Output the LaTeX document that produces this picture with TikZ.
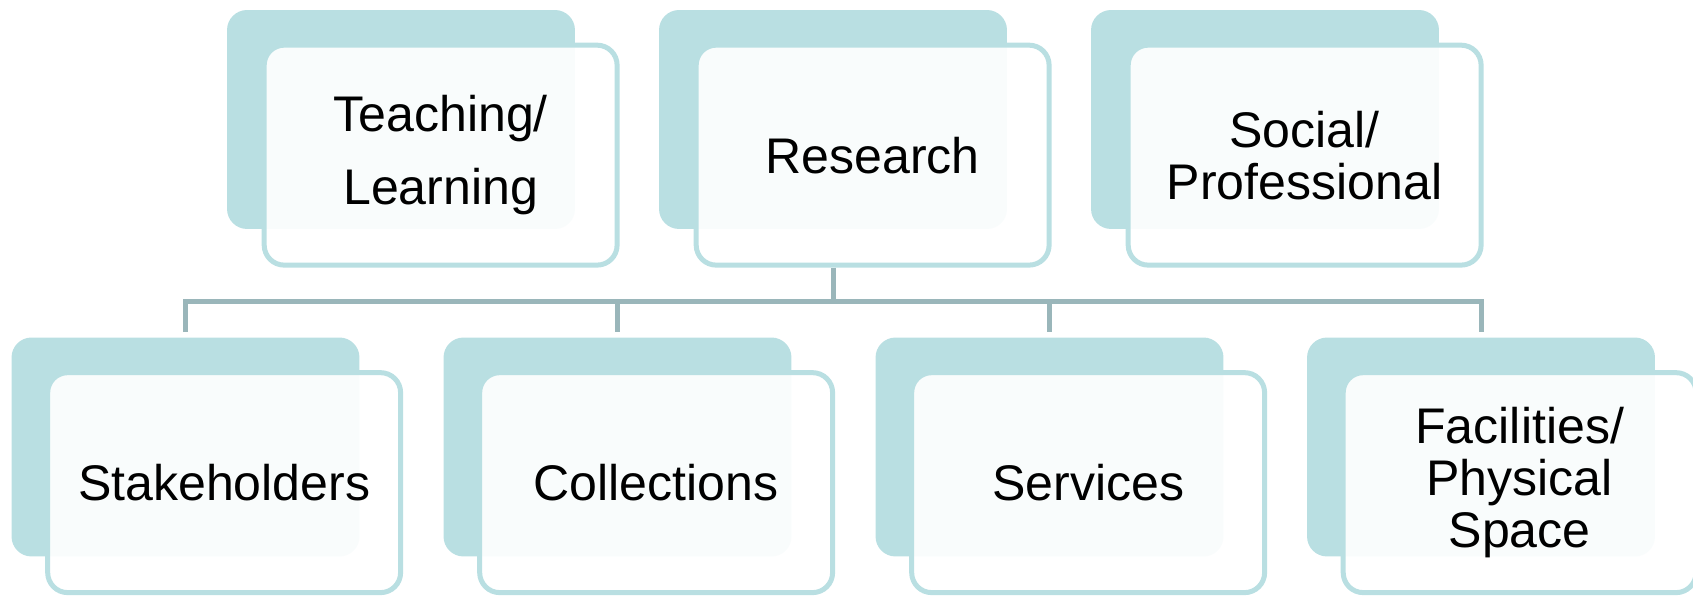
\documentclass[tikz,border=0pt]{standalone}
\usepackage{fontspec}
\setmainfont{Liberation Sans}

\definecolor{boxteal}{RGB}{185,223,226}
\definecolor{linkgray}{RGB}{154,182,186}

\begin{document}
\begin{tikzpicture}[x=0.02cm,y=-0.02cm,
    back/.style={rectangle,rounded corners=0.4cm,fill=boxteal,minimum width=6.96cm,minimum height=4.38cm},
    front/.style={rectangle,rounded corners=0.4cm,draw=boxteal,line width=0.1cm,fill=white,
      fill opacity=0.92,text opacity=1,minimum width=7.06cm,minimum height=4.4cm,
      align=center,font=\fontsize{28.5}{29.6}\selectfont,anchor=north west},
    link/.style={draw=linkgray,line width=0.1cm}]
  \useasboundingbox (0,0) rectangle (1693,597);

  % top row
  \node[back] (teach-bk) at (401,119.5) {};
  \node[back] (research-bk) at (833,119.5) {};
  \node[back] (social-bk) at (1265,119.5) {};
  \node[front] (teach) at ([shift={(35,33)}]teach-bk.north west) {Teaching/\\[0.42cm]Learning};
  \node[front] (research) at ([shift={(35,33)}]research-bk.north west) {Research};
  \node[front] (social) at ([shift={(35,33)}]social-bk.north west) {Social/\\Professional};

  % bottom row
  \node[back] (stake-bk) at (185.5,447) {};
  \node[back] (coll-bk) at (617.5,447) {};
  \node[back] (serv-bk) at (1049.5,447) {};
  \node[back] (fac-bk) at (1481,447) {};
  \node[front] (stake) at ([shift={(34,33)}]stake-bk.north west) {Stakeholders};
  \node[front] (coll) at ([shift={(34,33)}]coll-bk.north west) {Collections};
  \node[front] (serv) at ([shift={(34,33)}]serv-bk.north west) {Services};
  \node[front] (fac) at ([shift={(34,33)}]fac-bk.north west) {Facilities/\\Physical\\Space};

  % connectors
  \coordinate (bus) at (0,302);
  \draw[link] (research-bk.south |- research.south) -- (research-bk.south |- bus);
  \draw[link,shorten <=0.1cm,shorten >=0.1cm] (stake-bk.north) |- (research-bk.south |- bus) -| (fac-bk.north);
  \draw[link,shorten >=0.1cm] (coll-bk.north |- bus) -- (coll-bk.north);
  \draw[link,shorten >=0.1cm] (serv-bk.north |- bus) -- (serv-bk.north);

\end{tikzpicture}
\end{document}
